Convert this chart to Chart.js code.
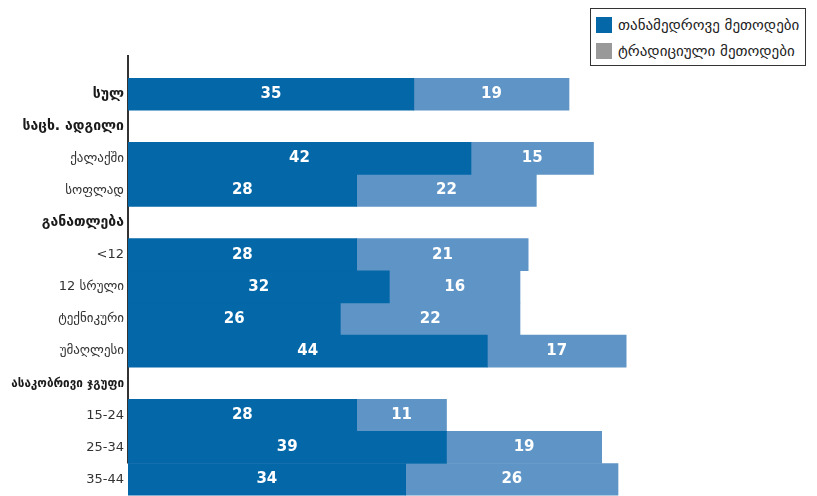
<!DOCTYPE html>
<html>
<head>
<meta charset="utf-8">
<script src="https://cdn.jsdelivr.net/npm/chart.js@4/dist/chart.umd.min.js"></script>
<style>
  html, body { margin: 0; padding: 0; background: #fff; overflow: hidden; }
  #wrap { position: relative; width: 817px; height: 496px; overflow: hidden; }
  #legend {
    position: absolute; left: 590px; top: 8px; width: 214px; height: 56px;
    border: 1px solid #333; background: #fff;
    font-family: "DejaVu Sans", sans-serif; font-size: 15px; color: #222;
  }
  #legend .row { position: absolute; left: 5px; height: 18px; line-height: 18px; white-space: nowrap; }
  #legend .sw { display: inline-block; width: 16px; height: 16px; vertical-align: -3px; margin-right: 6px; }
</style>
</head>
<body>
<div id="wrap">
  <canvas id="chart" width="817" height="508"></canvas>
  <div id="legend"></div>
</div>
<script>
// categories (header rows have no bars)
const labels = ['სულ', 'საცხ. ადგილი', 'ქალაქში', 'სოფლად', 'განათლება', '<12', '12 სრული',
  'ტექნიკური', 'უმაღლესი', 'ასაკობრივი ჯგუფი', '15-24', '25-34', '35-44'];
const boldLabels = ['სულ', 'საცხ. ადგილი', 'განათლება', 'ასაკობრივი ჯგუფი'];

const seriesNames = ['თანამედროვე მეთოდები', 'ტრადიციული მეთოდები'];
const modernValues = [35, null, 42, 28, null, 28, 32, 26, 44, null, 28, 39, 34];
const traditionalValues = [19, null, 15, 22, null, 21, 16, 22, 17, null, 11, 19, 26];

const barColors = ['#0467a8', '#5f95c6'];
const legendColors = ['#0467a8', '#999999'];

// html legend
const legend = document.getElementById('legend');
seriesNames.forEach(function (name, i) {
  const row = document.createElement('div');
  row.className = 'row';
  row.style.top = (i === 0 ? 7 : 33) + 'px';
  row.innerHTML = '<span class="sw" style="background:' + legendColors[i] + '"></span>' + name;
  legend.appendChild(row);
});

// axis line that sits behind the bars
const axisLine = {
  id: 'axisLine',
  beforeDatasetsDraw(chart) {
    const ctx = chart.ctx;
    const y = chart.scales.y;
    const x = chart.scales.x.getPixelForValue(0);
    ctx.save();
    ctx.strokeStyle = '#333';
    ctx.lineWidth = 2;
    ctx.beginPath();
    ctx.moveTo(x, y.getPixelForValue(0) - 39);
    ctx.lineTo(x, y.getPixelForValue(12) - 16);
    ctx.stroke();
    ctx.restore();
  }
};

// white numbers in the middle of each segment
const valueLabels = {
  id: 'valueLabels',
  afterDatasetsDraw(chart) {
    const ctx = chart.ctx;
    ctx.save();
    ctx.fillStyle = '#fff';
    ctx.font = 'bold 15px "DejaVu Sans", sans-serif';
    ctx.textAlign = 'center';
    ctx.textBaseline = 'middle';
    chart.data.datasets.forEach(function (ds, di) {
      chart.getDatasetMeta(di).data.forEach(function (bar, i) {
        const v = ds.data[i];
        if (v == null) return;
        const p = bar.getProps(['x', 'y', 'base'], true);
        ctx.fillText(String(v), (p.x + p.base) / 2, p.y);
      });
    });
    ctx.restore();
  }
};

new Chart(document.getElementById('chart'), {
  type: 'bar',
  data: {
    labels: labels,
    datasets: [
      { label: seriesNames[0], data: modernValues, backgroundColor: barColors[0] },
      { label: seriesNames[1], data: traditionalValues, backgroundColor: barColors[1] }
    ]
  },
  options: {
    indexAxis: 'y',
    responsive: false,
    animation: false,
    layout: { padding: { top: 78, right: 3, left: 0, bottom: 0 } },
    datasets: { bar: { barPercentage: 1, categoryPercentage: 1, borderWidth: 0 } },
    plugins: { legend: { display: false }, tooltip: { enabled: false } },
    scales: {
      x: {
        stacked: true, min: 0, max: 84, display: false
      },
      y: {
        stacked: true,
        grid: { display: false, drawTicks: false },
        border: { display: false },
        afterFit: function (s) { s.width = 128; },
        ticks: {
          padding: 4,
          autoSkip: false,
          color: function (c) { return boldLabels.includes(labels[c.index]) ? '#1a1a1a' : '#333'; },
          font: function (c) {
            const lab = labels[c.index];
            if (lab === 'ასაკობრივი ჯგუფი') {
              // long header is squeezed in the original
              return { family: '"DejaVu Sans Condensed", "DejaVu Sans", sans-serif', size: 13, weight: 'bold' };
            }
            if (boldLabels.includes(lab)) {
              return { family: '"DejaVu Sans", sans-serif', size: 14, weight: 'bold' };
            }
            return { family: '"DejaVu Sans", sans-serif', size: 13, weight: 'normal' };
          }
        }
      }
    }
  },
  plugins: [axisLine, valueLabels]
});
</script>
</body>
</html>
